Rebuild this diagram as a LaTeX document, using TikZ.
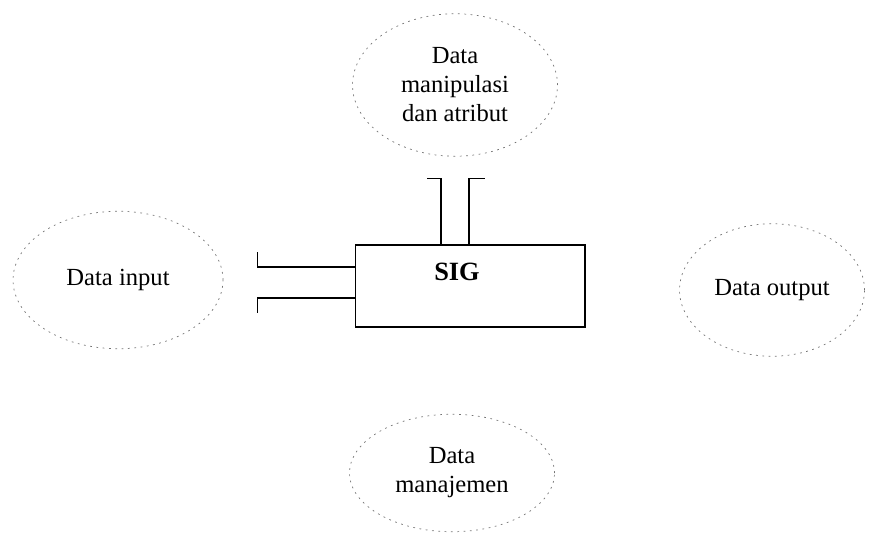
\documentclass[tikz,border=0pt]{standalone}
\usepackage{fontspec}
\setmainfont{Liberation Serif}
\usetikzlibrary{shapes.geometric, calc, positioning}

\begin{document}
\begin{tikzpicture}[
	x=0.02cm, y=-0.02cm,
	every node/.style={font=\fontsize{14}{16.5}\selectfont},
	data_node/.style={ellipse, draw=black!55, dash pattern=on 1pt off 2.6pt, align=center, inner sep=0pt},
	sig_box/.style={draw, semithick, minimum width=4.6cm, minimum height=1.64cm},
	stub/.style={semithick}
	]
	\useasboundingbox (0,0) rectangle (875,541);
	
	% --- KOTAK SIG ---
	\node[sig_box] (sig) at (470,286) {};
	\node[font=\fontsize{15}{17}\selectfont\bfseries] (siglabel) at (457,272) {SIG};
	
	% --- ELIPS DATA ---
	\node[data_node, minimum width=4.2cm, minimum height=2.75cm] (input) at (118,280) {Data input};
	\node[data_node, minimum width=3.7cm, minimum height=2.65cm] (output) at (772,290) {Data output};
	\node[data_node, minimum width=4.1cm, minimum height=2.85cm] (manip) at (455,85) {Data\\manipulasi\\dan atribut};
	\node[data_node, minimum width=4.1cm, minimum height=2.35cm] (manaj) at (452,473) {Data\\manajemen};
	
	% --- SAMBUNGAN ---
	\draw[stub] ($(sig.west)+(0,-19)$) -- ++(-97,0) -- ++(0,-15);
	\draw[stub] ($(sig.west)+(0,12)$) -- ++(-97,0) -- ++(0,15);
	
	\draw[stub] ($(sig.north)+(-29,0)$) -- ++(0,-66) -- ++(-14,0);
	\draw[stub] ($(sig.north)+(-1,0)$) -- ++(0,-66) -- ++(16,0);
	
\end{tikzpicture}
\end{document}
